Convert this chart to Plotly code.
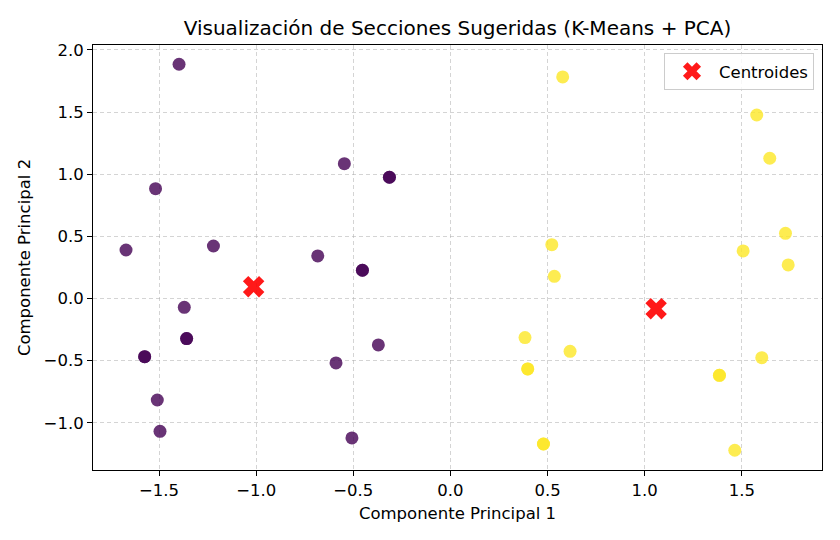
import plotly.graph_objects as go

# PCA components of each section, with the cluster assigned by K-Means
pc1 = [-1.397, -1.518, -0.546, -0.314, -0.314, -1.670, -1.220, -0.683,
       -0.453, -0.453, -1.370, -1.358, -1.358, -1.574, -1.574, -0.371,
       -0.589, -1.509, -1.495, -0.507,
       0.578, 1.577, 1.644, 1.725, 0.522, 1.507, 1.739, 0.535, 0.384,
       0.616, 0.398, 0.398, 1.603, 1.385, 1.385, 0.479, 0.479, 1.464]
pc2 = [1.884, 0.883, 1.084, 0.975, 0.975, 0.390, 0.422, 0.342,
       0.227, 0.227, -0.071, -0.323, -0.323, -0.468, -0.468, -0.374,
       -0.519, -0.817, -1.069, -1.122,
       1.782, 1.476, 1.128, 0.524, 0.433, 0.382, 0.270, 0.178, -0.315,
       -0.425, -0.567, -0.567, -0.476, -0.618, -0.618, -1.171, -1.171, -1.221]
labels = [0] * 20 + [1] * 18

centroid_x = [-1.013, 1.059]
centroid_y = [0.095, -0.082]

font = "DejaVu Sans"

fig = go.Figure()
fig.add_trace(go.Scatter(
    x=pc1, y=pc2, mode="markers", showlegend=False,
    marker=dict(color=labels, colorscale="Viridis", cmin=0, cmax=1,
                size=13, opacity=0.8, line=dict(width=0)),
))
fig.add_trace(go.Scatter(
    x=centroid_x, y=centroid_y, mode="markers", name="Centroides",
    marker=dict(symbol="x", color="red", size=19, opacity=0.9,
                line=dict(width=0)),
))

axis_style = dict(
    showline=True, linecolor="black", linewidth=1, mirror=True,
    ticks="outside", ticklen=5, tickcolor="black",
    showgrid=True, gridcolor="rgba(170,170,170,0.5)", griddash="4px,3px",
    zeroline=False, tickformat=".1f", automargin=False,
    tickfont=dict(family=font, size=16.5, color="black"),
)

# page body adds an 8px offset, so the figure is a bit smaller than the window
fig.update_layout(
    width=832, height=532,
    paper_bgcolor="white", plot_bgcolor="white",
    margin=dict(l=85, r=18, t=37, b=70),
    title=dict(text="Visualización de Secciones Sugeridas (K-Means + PCA)",
               xref="paper", x=0.5, xanchor="center",
               yref="container", y=0.962, yanchor="middle",
               font=dict(family=font, size=20, color="black")),
    xaxis=dict(title=dict(text="Componente Principal 1",
                          font=dict(family=font, size=16.5, color="black"),
                          standoff=8),
               range=[-1.84, 1.913], dtick=0.5, tick0=0, **axis_style),
    yaxis=dict(title=dict(text="Componente Principal 2",
                          font=dict(family=font, size=16.5, color="black"),
                          standoff=8),
               range=[-1.38, 2.039], dtick=0.5, tick0=0, **axis_style),
    legend=dict(x=0.989, y=0.981, xanchor="right", yanchor="top",
                itemwidth=44,
                bgcolor="rgba(255,255,255,0.8)", bordercolor="#cccccc",
                borderwidth=1, font=dict(family=font, size=16.5, color="black")),
)

fig.write_html("out.html")
